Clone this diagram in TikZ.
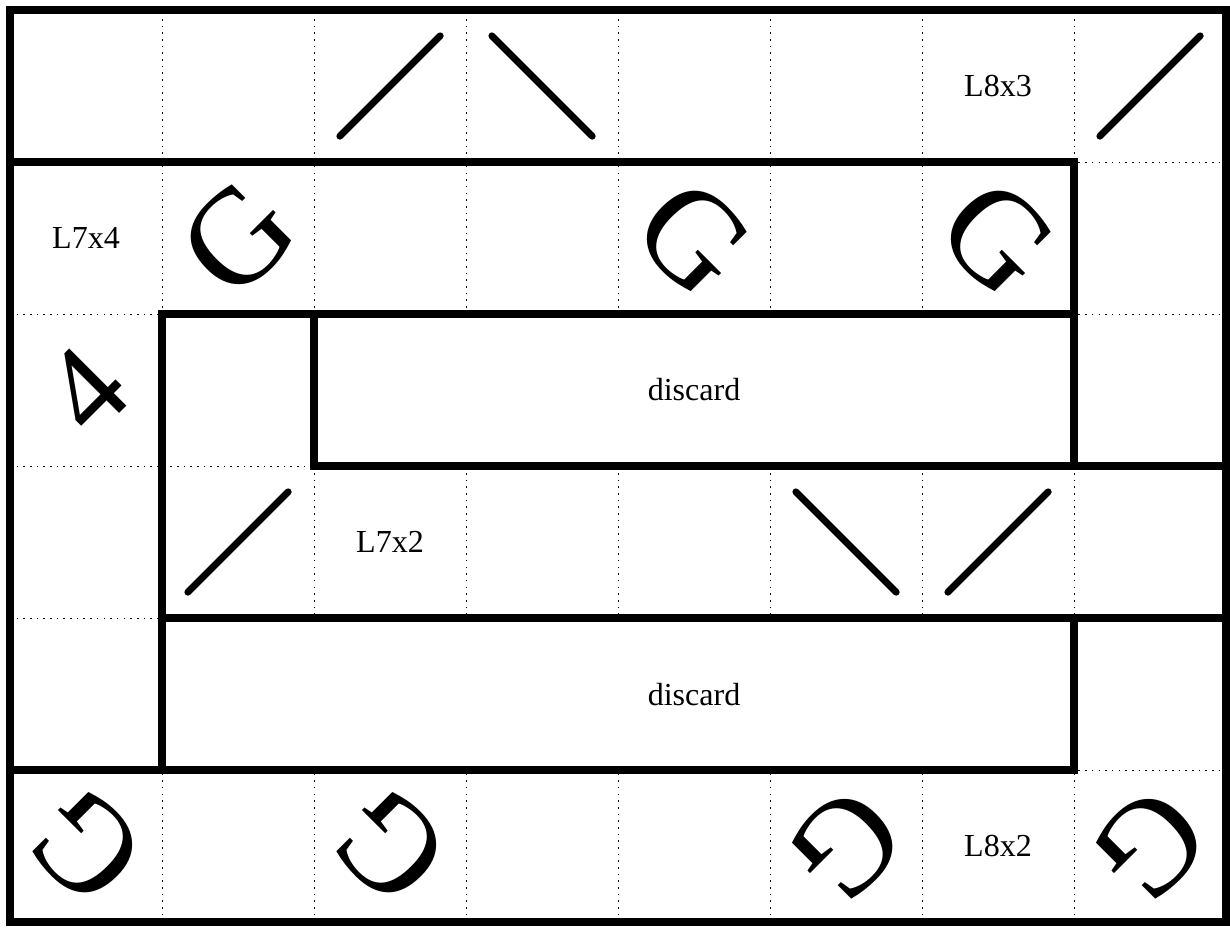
\documentclass[tikz,border=0pt]{standalone}
\usepackage{fontspec}
\setmainfont{Liberation Serif}
\usetikzlibrary{calc}

\begin{document}
\begin{tikzpicture}[x=2cm,y=2cm,
        wall/.style={line width=3.3pt},
        mirror/.style={line width=2.6pt, line cap=round},
        gridline/.style={line width=0.35pt, dash pattern=on 0.6pt off 1.9pt},
        lbl/.style={font=\fontsize{12}{14}\selectfont},
        glyph/.style={font=\fontsize{51}{55}\selectfont, inner sep=0pt}]
        \useasboundingbox (-0.066,-0.033) rectangle (8.026,6.066);
        % dotted grid
        \foreach \x in {1,...,7}
        \draw[gridline] (\x,0) -- (\x,6);
        \foreach \y in {1,...,5}
        \draw[gridline] (0,\y) -- (8,\y);
        \fill[white] (2,3) rectangle (7,4);
        \fill[white] (1,1) rectangle (7,2);
        % walls
        \draw[wall] (0,0) rectangle (8,6);
        \draw[wall] (0,5) -- (7,5) -- (7,3);
        \draw[wall] (1,1) -- (1,4) -- (7,4);
        \draw[wall] (2,4) -- (2,3) -- (8,3);
        \draw[wall] (1,2) -- (8,2);
        \draw[wall] (0,1) -- (7,1) -- (7,2);
        % mirrors
        \foreach \c/\r in {2/5, 7/5, 1/2, 6/2}
        \draw[mirror, shift={(\c,\r)}] (0.17,0.17) -- (0.83,0.83);
        \foreach \c/\r in {3/5, 5/2}
        \draw[mirror, shift={(\c,\r)}] (0.17,0.83) -- (0.83,0.17);
        % labels
        \node[lbl] (l83) at (6.5,5.5) {L8x3};
        \node[lbl] (l74) at (0.5,4.5) {L7x4};
        \node[lbl] (l72) at (2.5,2.5) {L7x2};
        \node[lbl] (l82) at (6.5,0.5) {L8x2};
        \node[lbl] (d1) at (4.5,3.5) {discard};
        \node[lbl] (d2) at (4.5,1.5) {discard};
        % rotated glyphs
        \foreach \x/\y/\a [count=\i] in {1.5/4.5/45, 4.5/4.5/-45, 6.5/4.5/-45,
            0.5/0.5/135, 2.5/0.5/135, 5.5/0.5/-135, 7.5/0.5/-135}
        \node[glyph, rotate=\a] (g\i) at (\x,\y) {G};
        \node[glyph, rotate=45, font=\fontsize{46}{50}\selectfont] (four) at (0.5,3.5) {4};
\end{tikzpicture}
\end{document}
